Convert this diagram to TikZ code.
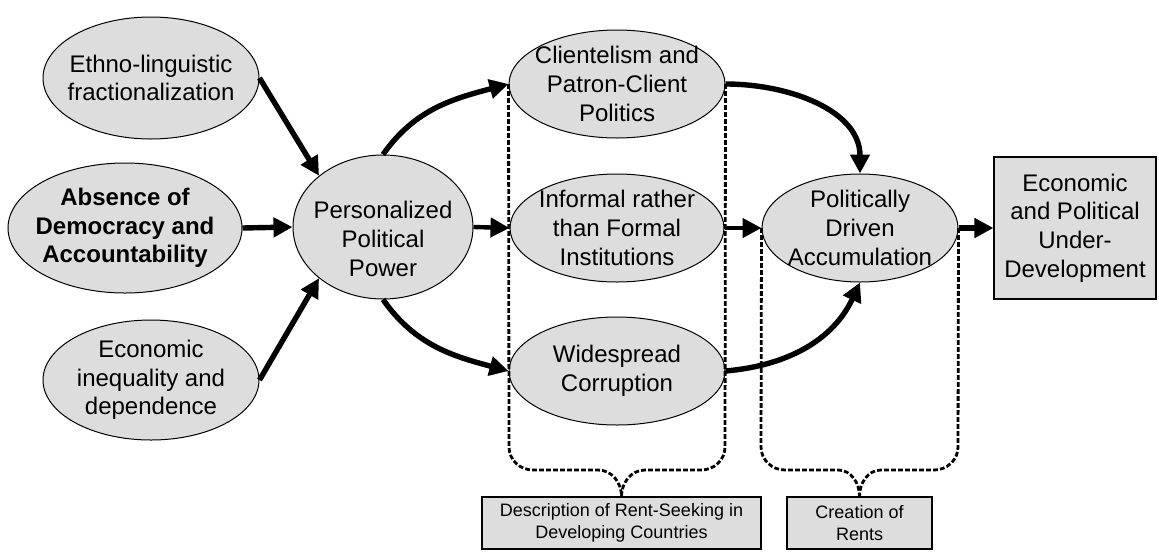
\documentclass[tikz,border=0pt]{standalone}
\usepackage{fontspec}
\setmainfont{Liberation Sans}
\usetikzlibrary{shapes.geometric,arrows.meta}
\definecolor{boxgray}{RGB}{221,221,221}
\begin{document}
\begin{tikzpicture}[x=0.5pt,y=0.5pt,
  oval/.style={ellipse, draw=black, line width=0.5pt, fill=boxgray, align=center,
    inner xsep=-30pt, inner ysep=-20pt, font=\fontsize{12}{14.3}\selectfont},
  rbox/.style={rectangle, draw=black, line width=0.6pt, fill=boxgray, align=center, inner sep=0pt},
  arr/.style={-{Triangle[length=9.5pt,width=9.5pt]}, line width=2.7pt},
  brace/.style={line width=1.4pt, dash pattern=on 2.4pt off 1.1pt}
]
\useasboundingbox (0,0) rectangle (1159,-552);

% ellipses
\node[oval, minimum width=108pt, minimum height=61pt] (eth) at (151,-78) {Ethno-linguistic\\fractionalization};
\node[oval, minimum width=117pt, minimum height=65pt, font=\fontsize{12}{14.3}\selectfont\bfseries] (abs) at (125,-228) {Absence of\\Democracy and\\Accountability};
\node[oval, minimum width=108pt, minimum height=60pt] (eco) at (151,-380) {Economic\\inequality and\\dependence};
\node[oval, minimum width=90pt, minimum height=72pt,
  label={[align=center, yshift=-6pt, font=\fontsize{12}{14.3}\selectfont]center:Personalized\\Political\\Power}] (per) at (383,-227) {};
\node[oval, minimum width=108pt, minimum height=54pt] (cli) at (617,-84) {Clientelism and\\Patron-Client\\Politics};
\node[oval, minimum width=107pt, minimum height=54pt] (inf) at (617,-228) {Informal rather\\than Formal\\Institutions};
\node[oval, minimum width=108pt, minimum height=54pt] (wid) at (617,-371) {Widespread\\Corruption};
\node[oval, minimum width=98pt, minimum height=54pt] (pda) at (860,-228) {Politically\\Driven\\Accumulation};

% boxes
\node[rbox, minimum width=81pt, minimum height=71pt, font=\fontsize{12}{14.3}\selectfont] (out) at (1075,-228) {Economic\\and Political\\Under-\\Development};
\node[rbox, minimum width=139.5pt, minimum height=26pt, font=\fontsize{9}{11}\selectfont] (desc) at (621.5,-523) {Description of Rent-Seeking in\\Developing Countries};
\node[rbox, minimum width=72.5pt, minimum height=26pt, font=\fontsize{9}{11}\selectfont] (cre) at (859.5,-523) {Creation of\\Rents};

% arrows
\draw[arr] (eth.east) -- (per.north west);
\draw[arr] (abs.east) -- (per.west);
\draw[arr] (eco.east) -- (per.south west);
\draw[arr] (per.north) to[out=55,in=195] (cli.west);
\draw[arr] (per.south) to[out=-55,in=165] (wid.west);
\draw[arr, line width=2.2pt] (per.east) -- (inf.west);
\draw[arr, line width=2.2pt] (inf.east) -- (pda.west);
\draw[arr] (cli.east) to[out=0,in=90] (pda.north);
\draw[arr] (wid.east) to[out=5,in=-115] (pda.south);
\draw[arr, line width=3.2pt] (pda.east) -- (out.west);

% braces
\draw[brace] (cli.west) -- (509,-447) to[out=-90,in=180] (533,-470) -- (598,-470) to[out=0,in=90] (desc.north);
\draw[brace] (cli.east) -- (725,-447) to[out=-90,in=0] (701,-470) -- (645,-470) to[out=180,in=90] (desc.north);
\draw[brace] (pda.west) -- (761,-447) to[out=-90,in=180] (785,-470) -- (838,-470) to[out=0,in=90] (cre.north);
\draw[brace] (pda.east) -- (958,-447) to[out=-90,in=0] (934,-470) -- (881,-470) to[out=180,in=90] (cre.north);
\end{tikzpicture}
\end{document}
